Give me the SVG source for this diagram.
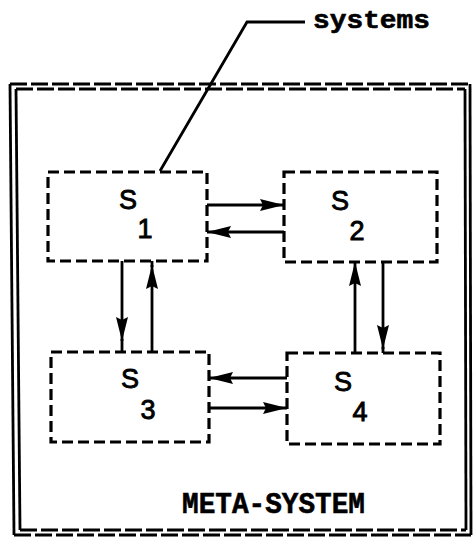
<svg xmlns="http://www.w3.org/2000/svg" width="474" height="538" viewBox="0 0 474 538">
<style>
.box{fill:none;stroke:#000;stroke-width:3.2;stroke-dasharray:11 5}
.frameD{fill:none;stroke:#000;stroke-width:2.8;stroke-dasharray:17 4}
.frameS{fill:none;stroke:#000;stroke-width:2.8}
.con{fill:none;stroke:#000;stroke-width:2.8}
.lbl{font-family:"Liberation Sans",Arial,sans-serif;font-size:27px;fill:#000;stroke:#000;stroke-width:0.9;text-anchor:middle}
.mono{font-family:"Liberation Mono","Courier New",monospace;font-weight:bold;fill:#000;stroke:#000;stroke-width:0.6}
</style>
<defs>
<marker id="ah" viewBox="0 0 24 12" refX="24" refY="6" markerWidth="24" markerHeight="12" markerUnits="userSpaceOnUse" orient="auto">
<path d="M0,0 L24,6 L0,12 L3,6 z" fill="#000"/>
</marker>
</defs>
<g id="meta-system">
<path class="frameD" d="M10,84 H470"/>
<path class="frameD" d="M16,89 H465"/>
<path class="frameD" d="M14,535 H471"/>
<path class="frameD" d="M20,530 H466"/>
<path class="frameS" d="M10,84 L14,535"/>
<path class="frameS" d="M16,89 L20,530"/>
<path class="frameS" d="M470,84 L471,535"/>
<path class="frameS" d="M465,89 L466,530"/>
<text class="mono" x="182" y="513" font-size="30" textLength="183" lengthAdjust="spacingAndGlyphs">META-SYSTEM</text>
</g>
<g id="systems-label">
<path class="con" d="M160,171 L247,22 H305"/>
<text class="mono" x="313" y="28" font-size="26" textLength="117" lengthAdjust="spacingAndGlyphs">systems</text>
</g>
<g id="S1">
<rect class="box" x="48" y="172" width="159" height="89"/>
<text class="lbl" x="128" y="209">S</text>
<text class="lbl" x="145" y="238">1</text>
</g>
<g id="S2">
<rect class="box" x="284" y="172" width="153" height="90"/>
<text class="lbl" x="340" y="210">S</text>
<text class="lbl" x="357" y="240">2</text>
</g>
<g id="S3">
<rect class="box" x="51" y="352" width="158" height="90"/>
<text class="lbl" x="130" y="388">S</text>
<text class="lbl" x="148" y="419">3</text>
</g>
<g id="S4">
<rect class="box" x="287" y="353" width="153" height="91"/>
<text class="lbl" x="343" y="391">S</text>
<text class="lbl" x="360" y="421">4</text>
</g>
<g id="connectors">
<path class="con" d="M207,205 H284" marker-end="url(#ah)"/>
<path class="con" d="M284,232 H207" marker-end="url(#ah)"/>
<path class="con" d="M122,261 V341" marker-end="url(#ah)"/>
<path class="con" d="M122,339 V352"/>
<path class="con" d="M152,352 V265" marker-end="url(#ah)"/>
<path class="con" d="M152,267 V261"/>
<path class="con" d="M355,353 V262" marker-end="url(#ah)"/>
<path class="con" d="M383,262 V349" marker-end="url(#ah)"/>
<path class="con" d="M383,347 V353"/>
<path class="con" d="M287,378 H209" marker-end="url(#ah)"/>
<path class="con" d="M209,408 H287" marker-end="url(#ah)"/>
</g>
</svg>
